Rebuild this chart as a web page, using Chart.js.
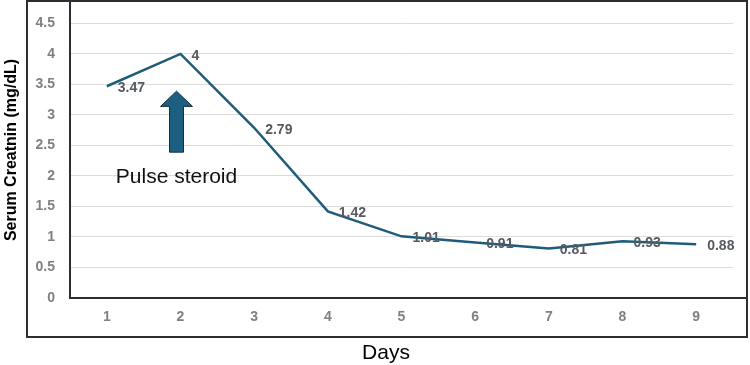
<!DOCTYPE html>
<html>
<head>
<meta charset="utf-8">
<script src="https://cdn.jsdelivr.net/npm/chart.js@4/dist/chart.umd.min.js"></script>
<style>
  body { margin: 0; background: #fff; }
  canvas { display: block; }
</style>
</head>
<body>
<canvas id="creatChart" width="750" height="365"></canvas>
<script>
const days = ["1", "2", "3", "4", "5", "6", "7", "8", "9"];
const creatinine = [3.47, 4, 2.79, 1.42, 1.01, 0.91, 0.81, 0.93, 0.88];
const valueLabels = ["3.47", "4", "2.79", "1.42", "1.01", "0.91", "0.81", "0.93", "0.88"];
const yTicks = [0, 0.5, 1, 1.5, 2, 2.5, 3, 3.5, 4, 4.5];
const yTickLabels = ["0", "0.5", "1", "1.5", "2", "2.5", "3", "3.5", "4", "4.5"];

// steroid arrow, in data terms (day + creatinine level)
const arrowDay = "2";
const arrowTip = 3.39, arrowNeck = 3.14, arrowBase = 2.39, arrowNoteY = 1.98;
const arrowNote = "Pulse steroid";

const FONT = "'Liberation Sans', Arial, sans-serif";

// box, axis lines, titles, arrow and point labels
const decorations = {
    id: "decorations",
    afterDatasetsDraw(chart) {
        const ctx = chart.ctx;
        const x = chart.scales.x, y = chart.scales.y;
        const area = chart.chartArea;

        ctx.save();
        // outer frame
        ctx.strokeStyle = "#2b2f33";
        ctx.lineWidth = 2;
        ctx.strokeRect(27, 1, 720, 336);
        // axis lines
        ctx.beginPath();
        ctx.moveTo(area.left, 0);
        ctx.lineTo(area.left, area.bottom);
        ctx.lineTo(748, area.bottom);
        ctx.stroke();

        // arrow
        const ax = x.getPixelForValue(x.getLabels().indexOf(arrowDay)) - 4;
        const tip = y.getPixelForValue(arrowTip);
        const neck = y.getPixelForValue(arrowNeck);
        const base = y.getPixelForValue(arrowBase);
        ctx.beginPath();
        ctx.moveTo(ax, tip);
        ctx.lineTo(ax + 16, neck);
        ctx.lineTo(ax + 7, neck);
        ctx.lineTo(ax + 7, base);
        ctx.lineTo(ax - 7, base);
        ctx.lineTo(ax - 7, neck);
        ctx.lineTo(ax - 16, neck);
        ctx.closePath();
        ctx.fillStyle = "#1d5f80";
        ctx.fill();
        ctx.strokeStyle = "#16303e";
        ctx.lineWidth = 1;
        ctx.stroke();

        ctx.fillStyle = "#111";
        ctx.font = "21px " + FONT;
        ctx.textAlign = "center";
        ctx.textBaseline = "middle";
        ctx.fillText(arrowNote, ax, y.getPixelForValue(arrowNoteY));

        // point labels
        const meta = chart.getDatasetMeta(0);
        ctx.font = "bold 14px " + FONT;
        ctx.fillStyle = "#555a60";
        ctx.textAlign = "left";
        meta.data.forEach((pt, i) => {
            ctx.fillText(valueLabels[i], pt.x + 11, pt.y + 2);
        });

        // axis titles
        ctx.fillStyle = "#000";
        ctx.font = "21px " + FONT;
        ctx.textAlign = "center";
        ctx.fillText("Days", 386, 353);

        ctx.translate(12, 150);
        ctx.rotate(-Math.PI / 2);
        ctx.font = "bold 16px " + FONT;
        ctx.fillText("Serum Creatnin (mg/dL)", 0, 0);
        ctx.restore();
    }
};

new Chart(document.getElementById("creatChart"), {
    type: "line",
    data: {
        labels: days,
        datasets: [{
            data: creatinine,
            borderColor: "#1f5c7a",
            borderWidth: 2.5,
            pointRadius: 0,
            tension: 0,
            fill: false
        }]
    },
    options: {
        responsive: false,
        devicePixelRatio: 1,
        animation: false,
        layout: { padding: { left: 0, right: 17, top: 14, bottom: 0 } },
        plugins: { legend: { display: false }, tooltip: { enabled: false } },
        scales: {
            x: {
                offset: true,
                grid: { display: false, drawTicks: false },
                border: { display: false },
                ticks: { color: "#7d8186", font: { family: FONT, size: 14, weight: "bold" }, padding: 11 },
                afterFit(scale) { scale.height = 67; }
            },
            y: {
                min: 0,
                max: 4.5,
                afterBuildTicks(scale) { scale.ticks = yTicks.map(v => ({ value: v })); },
                grid: { color: "#dcdcdc", lineWidth: 1, drawTicks: false },
                border: { display: false },
                ticks: {
                    color: "#7d8186",
                    font: { family: FONT, size: 14, weight: "bold" },
                    padding: 15,
                    callback: (value) => yTickLabels[yTicks.indexOf(value)]
                },
                afterFit(scale) { scale.width = 70; }
            }
        }
    },
    plugins: [decorations]
});
</script>
</body>
</html>
